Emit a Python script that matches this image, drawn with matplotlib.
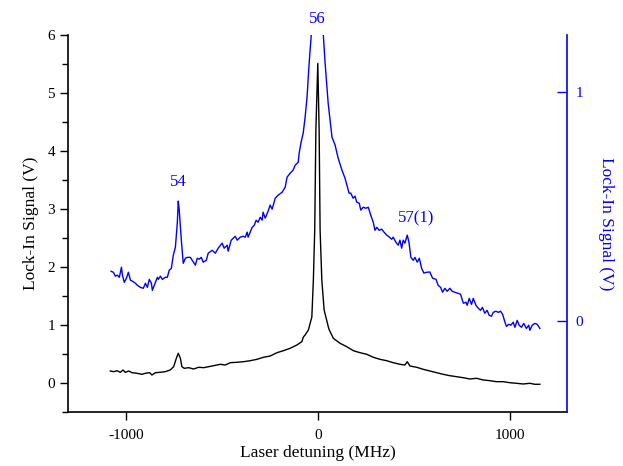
import matplotlib
matplotlib.use("Agg")
import matplotlib.pyplot as plt
from matplotlib.ticker import MultipleLocator

plt.rcParams['font.family'] = ['Liberation Serif', 'DejaVu Serif']

# Black trace (left axis, V)
black_x = [-1081, -1063, -1046, -1029, -1015, -1003, -985, -968, -942, -916, -899, -876, -864, -846,
           -821, -795, -769, -751, -737, -727, -716, -708, -696, -673, -647, -621, -595, -569, -543,
           -508, -482, -456, -421, -387, -352, -317, -283, -248, -213, -179, -144, -109, -83, -75, -66,
           -49, -31, -23, -16, -10, 0, 7, 12, 21, 33, 55, 60, 81, 116, 151, 185, 220, 255, 289, 324,
           359, 393, 428, 454, 466, 480, 515, 549, 584, 619, 653, 688, 723, 758, 792, 827, 862, 896,
           931, 966, 1001, 1035, 1070, 1105, 1131, 1157]
black_y = [0.212, 0.200, 0.217, 0.189, 0.229, 0.189, 0.212, 0.183, 0.172, 0.155, 0.172, 0.183, 0.143, 0.183,
           0.189, 0.200, 0.229, 0.286, 0.431, 0.517, 0.431, 0.286, 0.258, 0.269, 0.246, 0.276, 0.269, 0.286, 0.303,
           0.327, 0.315, 0.355, 0.362, 0.372, 0.389, 0.413, 0.448, 0.470, 0.527, 0.562, 0.603, 0.660, 0.717, 0.798, 0.832,
           0.918, 1.142, 1.780, 2.641, 4.364, 5.51, 4.364, 2.641, 1.780, 1.263, 0.970, 0.918, 0.775, 0.689, 0.630, 0.562, 0.527, 0.500, 0.448, 0.413,
           0.389, 0.355, 0.327, 0.315, 0.372, 0.298, 0.276, 0.241, 0.212, 0.183, 0.155, 0.131, 0.114, 0.096, 0.074, 0.086, 0.057, 0.045,
           0.028, 0.028, 0.010, 0.000, -0.012, 0.000, -0.017, -0.017]

# Blue trace (right axis, V)
blue_x = [-1077, -1065, -1055, -1044, -1034, -1023, -1018, -1008, -997, -987, -976, -966, -950, -940, -924,
          -909, -898, -888, -878, -867, -862, -852, -836, -831, -820, -810, -794, -784, -774, -763, -753,
          -742, -732, -727, -722, -711, -701, -690, -680, -664, -654, -638, -628, -618, -607, -597, -581,
          -571, -550, -534, -519, -498, -488, -472, -467, -451, -441, -430, -420, -404, -389, -378, -368,
          -363, -342, -331, -321, -311, -300, -290, -285, -274, -259, -248, -238, -222, -207, -186, -170,
          -160, -144, -129, -118, -102, -97, -87, -76, -66, -56, -45, -33, -15, 0, 15, 28, 38, 54, 74, 90,
          106, 126, 142, 163, 172, 184, 194, 203, 216, 224, 237, 251, 263, 276, 289, 298, 307, 320, 333,
          345, 359, 373, 385, 393, 407, 419, 428, 437, 445, 454, 466, 475, 485, 497, 506, 518, 529, 541,
          553, 567, 584, 598, 616, 627, 640, 650, 662, 674, 688, 700, 714, 732, 744, 758, 772, 778, 789,
          801, 810, 824, 836, 848, 858, 870, 882, 893, 905, 914, 928, 940, 952, 963, 975, 983, 995, 1006,
          1018, 1027, 1039, 1049, 1061, 1073, 1087, 1099, 1105, 1117, 1131, 1143, 1157]
blue_y = [0.218, 0.214, 0.197, 0.201, 0.192, 0.236, 0.201, 0.170, 0.188, 0.214, 0.179, 0.175, 0.166, 0.157, 0.148,
          0.144, 0.166, 0.148, 0.183, 0.166, 0.135, 0.157, 0.192, 0.183, 0.197, 0.183, 0.192, 0.192, 0.223, 0.231, 0.288,
          0.323, 0.428, 0.524, 0.485, 0.354, 0.253, 0.275, 0.279, 0.279, 0.266, 0.245, 0.275, 0.271, 0.279, 0.258, 0.266,
          0.297, 0.310, 0.297, 0.319, 0.341, 0.319, 0.332, 0.306, 0.354, 0.362, 0.371, 0.354, 0.367, 0.371, 0.367, 0.389,
          0.367, 0.410, 0.419, 0.441, 0.432, 0.454, 0.441, 0.476, 0.450, 0.480, 0.507, 0.489, 0.537, 0.550, 0.563, 0.585,
          0.629, 0.646, 0.659, 0.681, 0.694, 0.734, 0.782, 0.821, 0.891, 0.978, 1.127, 1.26, 1.8, 2.2, 1.8, 1.26, 1.127, 0.952, 0.803, 0.769,
          0.712, 0.659, 0.624, 0.559, 0.559, 0.537, 0.546, 0.520, 0.515, 0.485, 0.498, 0.493, 0.498, 0.463, 0.432, 0.397, 0.410, 0.397, 0.402,
          0.389, 0.376, 0.367, 0.358, 0.367, 0.345, 0.332, 0.354, 0.319, 0.354, 0.341, 0.376, 0.345, 0.279, 0.266, 0.279, 0.258, 0.275, 0.231,
          0.210, 0.214, 0.215, 0.188, 0.183, 0.157, 0.148, 0.127, 0.144, 0.131, 0.144, 0.131, 0.127, 0.122, 0.118, 0.079, 0.083, 0.070, 0.100,
          0.074, 0.100, 0.070, 0.057, 0.048, 0.061, 0.035, 0.048, 0.026, 0.022, 0.039, 0.044, 0.039, 0.044, 0.031, -0.004, -0.022, -0.013, -0.017,
          -0.004, -0.026, 0.004, -0.017, -0.026, -0.009, -0.031, -0.017, -0.039, -0.017, -0.009, -0.013, -0.031]

left_ticks = [0, 1, 2, 3, 4, 5, 6]
right_ticks = [0, 1]
x_ticks = [-1000, 0, 1000]

peak_labels = ["54", "56", "57(1)"]
peak_label_x = [-727, 0, 514]
peak_label_y = [0.607, 1.32, 0.45]

BLUE = '#0000ff'

fig = plt.figure(figsize=(6.23, 4.66), dpi=100)
ax = fig.add_axes([0.1096, 0.1152, 0.8010, 0.8097])
ax.plot(black_x, black_y, color='black', lw=1.0)
ax.set_xlim(-1300, 1300)
ax.set_ylim(-0.5, 6)
ax.set_xticks(x_ticks)
ax.set_xticklabels([str(t) for t in x_ticks])
ax.set_yticks(left_ticks)
ax.yaxis.set_minor_locator(MultipleLocator(0.5))
ax.tick_params(axis='y', which='major', direction='out', length=6, width=1, labelsize=11)
ax.tick_params(axis='y', which='minor', direction='out', length=4, width=1)
ax.tick_params(axis='x', which='major', direction='out', length=6, width=1, labelsize=11, pad=6)
ax.spines['top'].set_visible(False)
ax.spines['right'].set_visible(False)
for s in ['left', 'bottom']:
    ax.spines[s].set_linewidth(1.2)
ax.set_xlabel('Laser detuning (MHz)', fontsize=12.5, labelpad=2)
ax.set_ylabel('Lock-In Signal (V)', fontsize=12.5, labelpad=6)

ax2 = ax.twinx()
ax2.plot(blue_x, blue_y, color=BLUE, lw=1.0)
ax2.set_ylim(-0.397, 1.249)
ax2.set_yticks(right_ticks)
ax2.set_yticklabels([str(t) for t in right_ticks])
ax2.tick_params(axis='y', direction='in', length=7, width=1, colors=BLUE, labelsize=11, pad=6)
ax2.spines['right'].set_color(BLUE)
ax2.spines['right'].set_linewidth(1.2)
ax2.spines['top'].set_visible(False)
ax2.spines['left'].set_visible(False)
ax2.spines['bottom'].set_visible(False)
ax2.set_ylabel('Lock-In Signal (V)', fontsize=12.5, color=BLUE, rotation=-90, labelpad=22)

for lab, lx, ly in zip(peak_labels, peak_label_x, peak_label_y):
    ax2.text(lx, ly, lab, color=BLUE, fontsize=12, ha='center', va='center', clip_on=False)

fig.savefig('out.png', dpi=100)
